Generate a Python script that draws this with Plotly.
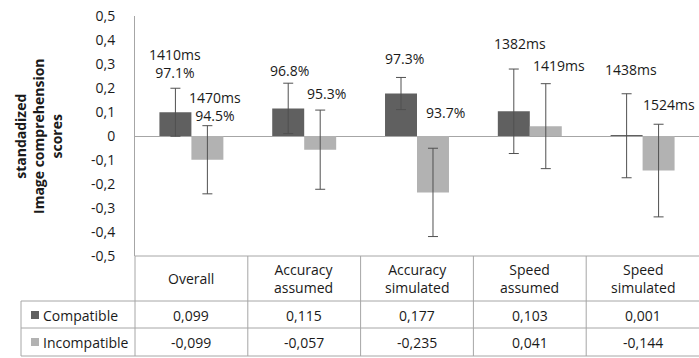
import plotly.graph_objects as go

categories = ["Overall", "Accuracy assumed", "Accuracy simulated", "Speed assumed", "Speed simulated"]
series_names = ["Compatible", "Incompatible"]
compatible = [0.099, 0.115, 0.177, 0.103, 0.001]
incompatible = [-0.099, -0.057, -0.235, 0.041, -0.144]
compatible_err = [0.100, 0.105, 0.067, 0.176, 0.175]
incompatible_err = [0.142, 0.165, 0.184, 0.177, 0.193]
compatible_labels = ["1410ms<br>97.1%", "96.8%", "97.3%", "1382ms", "1438ms"]
incompatible_labels = ["1470ms<br>94.5%", "95.3%", "93.7%", "1419ms", "1524ms"]
y_ticks = [-0.5, -0.4, -0.3, -0.2, -0.1, 0, 0.1, 0.2, 0.3, 0.4, 0.5]

# label placement (layout only)
comp_label_dx = [-0.145, -0.126, -0.115, -0.09, -0.103]
comp_label_y = [0.302, 0.271, 0.321, 0.3875, 0.279]
incomp_label_dx = [0.21, 0.20, 0.257, 0.256, 0.235]
incomp_label_y = [0.121, 0.179, 0.10, 0.292, 0.133]

W, H = 699, 358
L, R, T, B = 135, 0, 16, 102
DARK, LIGHT = "#606060", "#b2b2b2"
LINE = "#a6a6a6"
TXT = "#1a1a1a"
FONT = "Open Sans"


def px(xp):
    # image pixel -> paper x
    return (xp - L) / (W - L - R)


def py(yp):
    # image pixel -> paper y
    return (H - B - yp) / (H - T - B)


def fmt(v):
    if v == 0:
        return "0"
    return f"{v:.3f}".replace(".", ",") if abs(v * 10 - round(v * 10)) > 1e-9 else f"{v:.1f}".replace(".", ",")


idx = list(range(len(categories)))
fig = go.Figure()
fig.add_trace(go.Bar(x=idx, y=compatible, name=series_names[0], marker_color=DARK,
                     marker_line_width=0,
                     error_y=dict(type="data", array=compatible_err, color="#505050", thickness=1, width=5)))
fig.add_trace(go.Bar(x=idx, y=incompatible, name=series_names[1], marker_color=LIGHT,
                     marker_line_width=0,
                     error_y=dict(type="data", array=incompatible_err, color="#505050", thickness=1, width=5)))

fig.update_layout(width=W, height=H, margin=dict(l=L, r=R, t=T, b=B), showlegend=False,
                  barmode="group", bargap=0.433, bargroupgap=0,
                  plot_bgcolor="white", paper_bgcolor="white",
                  font=dict(family=FONT, size=14, color=TXT))
fig.update_xaxes(range=[-0.5, len(categories) - 0.5], showticklabels=False, showgrid=False,
                 zeroline=False, showline=False)
fig.update_yaxes(range=[-0.5, 0.5], tickvals=y_ticks, ticktext=[fmt(v) for v in y_ticks],
                 showgrid=False, zeroline=True, zerolinecolor=LINE, zerolinewidth=1,
                 showline=True, linecolor=LINE, linewidth=1,
                 ticks="outside", ticklen=16, tickcolor="rgba(0,0,0,0)",
                 ticklabeloverflow="allow", tickfont=dict(size=14, color=TXT))

# bar labels
for i in idx:
    fig.add_annotation(x=i + comp_label_dx[i], y=comp_label_y[i], text=compatible_labels[i],
                       showarrow=False, font=dict(size=14, color=TXT))
    fig.add_annotation(x=i + incomp_label_dx[i], y=incomp_label_y[i], text=incompatible_labels[i],
                       showarrow=False, font=dict(size=14, color=TXT))

# y title
fig.add_annotation(xref="paper", yref="paper", x=px(38), y=0.5, xanchor="center", yanchor="middle",
                   textangle=-90, text="<b>standadized<br>Image comprehension<br>scores</b>",
                   showarrow=False, font=dict(size=14, color=TXT))

# data table
shapes = []
line = dict(color=LINE, width=1)
shapes.append(dict(type="line", xref="paper", yref="paper", x0=0, x1=1, y0=0, y1=0, line=line))
for yp in (301, 328, 356):
    shapes.append(dict(type="line", xref="paper", yref="paper", x0=px(21), x1=1, y0=py(yp), y1=py(yp), line=line))
shapes.append(dict(type="line", xref="paper", yref="paper", x0=px(21), x1=px(21), y0=py(301), y1=py(356), line=line))
shapes.append(dict(type="line", xref="paper", yref="paper", x0=0, x1=0, y0=0, y1=py(356), line=line))
for i in idx[1:]:
    shapes.append(dict(type="line", xref="x", yref="paper", x0=i - 0.5, x1=i - 0.5, y0=0, y1=py(356), line=line))
for yp, col in ((315, DARK), (342, LIGHT)):
    shapes.append(dict(type="rect", xref="paper", yref="paper", x0=px(31), x1=px(39), y0=py(yp - 4), y1=py(yp + 4),
                       fillcolor=col, line=dict(width=0)))
fig.update_layout(shapes=shapes)

cell = dict(xref="x", yref="paper", xanchor="center", yanchor="middle", showarrow=False,
            font=dict(size=14, color=TXT))
for i, name in enumerate(categories):
    fig.add_annotation(x=i, y=py(278.5), text=name.replace(" ", "<br>"), **cell)
    fig.add_annotation(x=i, y=py(315), text=fmt(compatible[i]), **cell)
    fig.add_annotation(x=i, y=py(342.5), text=fmt(incompatible[i]), **cell)
for yp, name in ((315, series_names[0]), (342.5, series_names[1])):
    fig.add_annotation(xref="paper", yref="paper", x=px(41), y=py(yp), xanchor="left", yanchor="middle",
                       text=name, showarrow=False, font=dict(size=14, color=TXT))

# drop the default 8px body margin so the figure fills the window exactly
fig.write_html("out.html", config={"displayModeBar": False},
               post_script="document.body.style.margin='0';")
